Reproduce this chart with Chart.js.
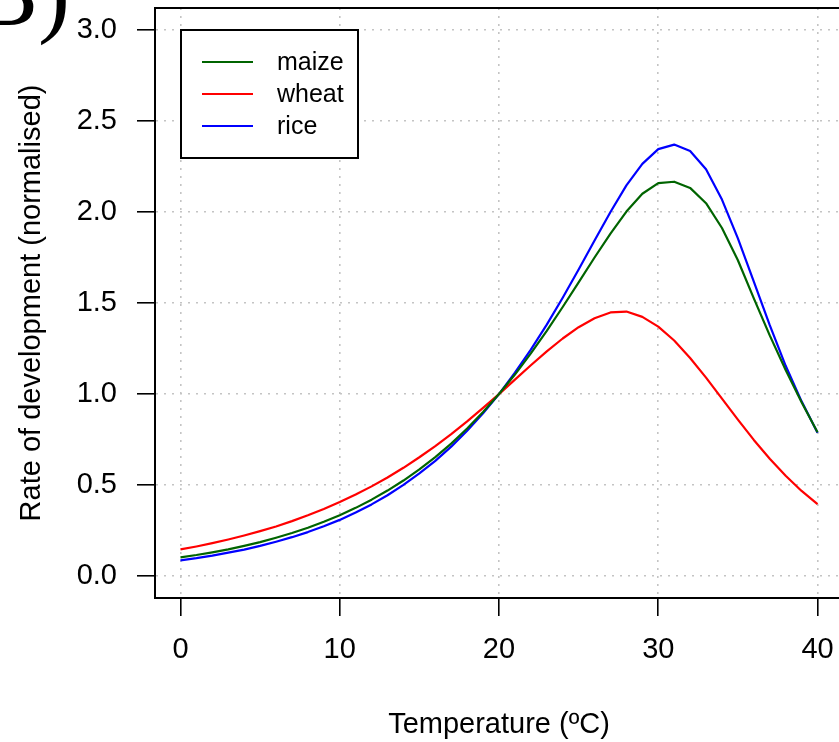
<!DOCTYPE html>
<html>
<head>
<meta charset="utf-8">
<script src="https://cdn.jsdelivr.net/npm/chart.js@4/dist/chart.umd.min.js"></script>
<style>
html,body{margin:0;padding:0;overflow:hidden;background:#fff;width:839px;height:742px}
#wrap{position:absolute;left:0;top:0;width:845px;height:742px}
canvas{display:block}
</style>
</head>
<body>
<div id="wrap"><canvas id="c" width="845" height="742"></canvas></div>
<script>
// ---- data ----
const temperature = [0,1,2,3,4,5,6,7,8,9,10,11,12,13,14,15,16,17,18,19,20,21,22,23,24,25,26,27,28,29,30,31,32,33,34,35,36,37,38,39,40];
const maize = [0.103,0.116,0.131,0.147,0.166,0.187,0.211,0.237,0.266,0.299,0.335,0.375,0.420,0.470,0.525,0.586,0.654,0.728,0.811,0.901,1.000,1.107,1.223,1.347,1.478,1.613,1.750,1.881,2.002,2.100,2.158,2.166,2.132,2.048,1.912,1.735,1.525,1.322,1.132,0.955,0.790];
const wheat = [0.147,0.163,0.181,0.201,0.223,0.247,0.273,0.302,0.334,0.369,0.407,0.448,0.493,0.542,0.595,0.653,0.714,0.780,0.850,0.924,1.000,1.079,1.158,1.234,1.305,1.367,1.416,1.448,1.453,1.424,1.370,1.294,1.198,1.090,0.975,0.860,0.748,0.645,0.551,0.468,0.396];
const rice = [0.087,0.099,0.113,0.129,0.146,0.166,0.189,0.214,0.242,0.274,0.309,0.349,0.394,0.444,0.501,0.564,0.633,0.711,0.798,0.894,1.000,1.117,1.244,1.381,1.529,1.684,1.843,2.000,2.146,2.264,2.345,2.370,2.335,2.234,2.068,1.855,1.618,1.378,1.155,0.960,0.787];
const seriesNames = ['maize','wheat','rice'];
const seriesColors = ['#006400','#ff0000','#0000ff'];
const xTicks = [0,10,20,30,40];
const yTicks = [0,0.5,1,1.5,2,2.5,3];
const xTitle = 'Temperature (ºC)';
const yTitle = 'Rate of development (normalised)';
const panelLabel = 'B)';

const SANS = '"Liberation Sans", Arial, Helvetica, sans-serif';
const toPts = arr => temperature.map((t,i)=>({x:t,y:arr[i]}));
const seriesData = [maize, wheat, rice];

const framePlugin = {
  id:'frame',
  afterDatasetsDraw(chart){
    const {ctx, chartArea:a} = chart;
    ctx.save();
    ctx.strokeStyle='#000'; ctx.lineWidth=2;
    ctx.strokeRect(a.left, a.top, a.right-a.left, a.bottom-a.top);
    ctx.restore();
  }
};
const legendPlugin = {
  id:'boxLegend',
  afterDraw(chart){
    const ctx = chart.ctx;
    ctx.save();
    ctx.fillStyle='#fff';
    ctx.fillRect(181,30,177,128);
    ctx.strokeStyle='#000'; ctx.lineWidth=2;
    ctx.strokeRect(181,30,177,128);
    chart.data.datasets.forEach((ds,i)=>{
      const y = 62 + i*32;
      ctx.strokeStyle = ds.borderColor; ctx.lineWidth = 2;
      ctx.beginPath(); ctx.moveTo(202,y); ctx.lineTo(253,y); ctx.stroke();
      ctx.fillStyle='#000';
      ctx.font = '25px ' + SANS;
      ctx.textBaseline='middle'; ctx.textAlign='left';
      ctx.fillText(ds.label, 277, y+1);
    });
    ctx.font = '96px "Liberation Serif", "Times New Roman", serif';
    ctx.textBaseline='alphabetic'; ctx.fillStyle='#000';
    ctx.fillText(panelLabel, -26, 25);
    ctx.restore();
  }
};

const zeroPad = s => { s.paddingLeft=0; s.paddingRight=0; s.paddingTop=0; s.paddingBottom=0; };

new Chart(document.getElementById('c'), {
  type:'line',
  data:{
    datasets: seriesNames.map((n,i)=>({
      label:n,
      data: toPts(seriesData[i]),
      borderColor: seriesColors[i],
      backgroundColor: seriesColors[i],
      borderWidth:2.2,
      pointRadius:0,
      tension:0,
      fill:false,
      borderJoinStyle:'round'
    }))
  },
  options:{
    responsive:false,
    animation:false,
    devicePixelRatio:1,
    layout:{padding:{left:0,right:2,top:8,bottom:0}},
    plugins:{legend:{display:false}, tooltip:{enabled:false}},
    scales:{
      x:{
        type:'linear', min:-1.6, max:41.6,
        afterBuildTicks: s => { s.ticks = xTicks.map(v=>({value:v})); },
        afterFit: s => { s.height = 144; zeroPad(s); },
        ticks:{ font:{family:SANS,size:29}, color:'#000', padding:17, maxRotation:0, autoSkip:false, callback:v=>String(v) },
        grid:{ color:'#c4c4c4', lineWidth:1.6, tickLength:18, tickColor:'#000', tickWidth:1.6, tickBorderDash:[] },
        border:{ display:true, color:'#000', width:2, dash:[2,6] },
        title:{ display:true, text:xTitle, color:'#000', font:{family:SANS,size:29,lineHeight:1}, padding:{top:0,bottom:3} }
      },
      y:{
        type:'linear', min:-0.12, max:3.12,
        afterBuildTicks: s => { s.ticks = yTicks.map(v=>({value:v})); },
        afterFit: s => { s.width = 155; zeroPad(s); },
        ticks:{ font:{family:SANS,size:29}, color:'#000', padding:20, autoSkip:false, callback:v=>Number(v).toFixed(1) },
        grid:{ color:'#c4c4c4', lineWidth:1.6, tickLength:18, tickColor:'#000', tickWidth:1.6, tickBorderDash:[] },
        border:{ display:true, color:'#000', width:2, dash:[2,6] },
        title:{ display:true, text:yTitle, color:'#000', font:{family:SANS,size:29,lineHeight:1}, padding:{top:17,bottom:0} }
      }
    }
  },
  plugins:[framePlugin, legendPlugin]
});
</script>
</body>
</html>
